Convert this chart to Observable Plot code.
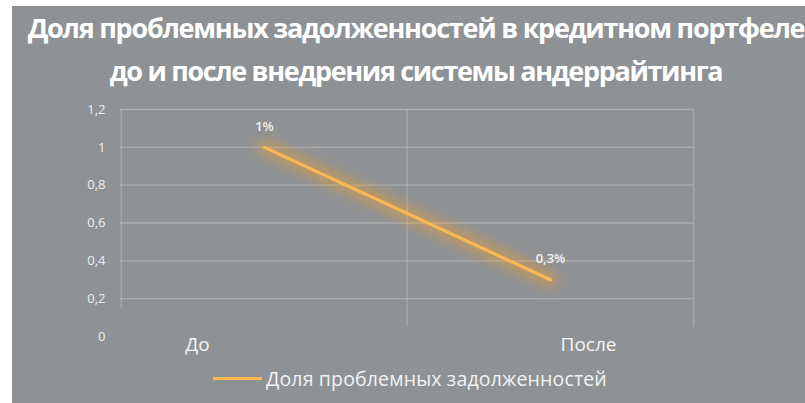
<!DOCTYPE html>
<html><head><meta charset="utf-8">
<script src="https://cdn.jsdelivr.net/npm/d3@7"></script>
<script src="https://cdn.jsdelivr.net/npm/@observablehq/plot@0.6"></script>
<style>
html,body{margin:0;padding:0;width:805px;height:403px;overflow:hidden;background:#fff;}
#bg{position:absolute;left:12px;top:6px;width:793px;height:397px;background:#8f9295;}
.title{position:absolute;left:0;width:832px;text-align:center;white-space:nowrap;color:#fff;font-family:"Open Sans",sans-serif;font-weight:700;font-size:27px;letter-spacing:-1.25px;line-height:1;}
#t1{top:14px;}
#t2{top:57px;letter-spacing:-1.35px;}
#chart{position:absolute;left:0;top:95px;}
#legend{position:absolute;left:213px;top:366px;height:24px;display:flex;align-items:center;font-family:"Open Sans",sans-serif;font-size:19.5px;letter-spacing:0.15px;color:#f2f2f2;white-space:nowrap;}
#legend .sw{width:49px;height:3px;background:#fbb852;margin-right:4px;}
</style></head>
<body>
<div id="bg"></div>
<div class="title" id="t1">Доля проблемных задолженностей в кредитном портфеле</div>
<div class="title" id="t2">до и после внедрения системы андеррайтинга</div>
<div id="chart"></div>
<div id="legend"><span class="sw"></span><span id="lgtext"></span></div>
<script>
const categories = ["До", "После"];
const values = [1, 0.3];
const valueLabels = ["1%", "0,3%"];
const yTicks = [0, 0.2, 0.4, 0.6, 0.8, 1, 1.2];
const yTickLabels = ["0", "0,2", "0,4", "0,6", "0,8", "1", "1,2"];
const seriesName = "Доля проблемных задолженностей";
document.getElementById("lgtext").textContent = seriesName;

const data = categories.map((c, i) => ({cat: c, v: values[i], label: valueLabels[i]}));
const W = 805, H = 265, mL = 120, mR = 112;
const halfStep = (W - mL - mR) / categories.length / 2;
const grid = {stroke: "#c8cbce", strokeOpacity: 0.5, strokeWidth: 1.4};

const chart = Plot.plot({
  width: W, height: H,
  marginLeft: mL, marginRight: mR, marginTop: 14, marginBottom: 24,
  style: {background: "transparent", overflow: "visible"},
  x: {type: "point", domain: categories, padding: 0.5, label: null},
  y: {domain: [0, 1.2], label: null},
  marks: [
    Plot.ruleY(yTicks.filter(d => d > 0), grid),
    Plot.ruleX([categories[0]], {y1: 0.15, y2: 1.2, dx: -halfStep, ...grid, strokeOpacity: 0.4}),
    Plot.ruleX([categories[1]], {y1: 0.05, y2: 1.2, dx: -halfStep, ...grid, strokeOpacity: 0.4}),
    Plot.ruleX([categories[1]], {y1: 0.05, y2: 1.2, dx: halfStep, ...grid, strokeOpacity: 0.4}),
    Plot.axisY({ticks: yTicks, tickFormat: d => yTickLabels[yTicks.indexOf(d)], tickSize: 0, tickPadding: 15, fontSize: 13, fill: "#eeeeee", fontFamily: "Open Sans", label: null}),
    Plot.axisX({ticks: [categories[0]], dx: -67, tickSize: 0, tickPadding: 1, fontSize: 19, fill: "#f5f5f5", fontFamily: "Open Sans", label: null}),
    Plot.axisX({ticks: [categories[1]], dx: 38, tickSize: 0, tickPadding: 1, fontSize: 19, fill: "#f5f5f5", fontFamily: "Open Sans", label: null}),
    Plot.line(data, {x: "cat", y: "v", stroke: "#f5a02c", strokeWidth: 16, strokeOpacity: 0.45, strokeLinecap: "round", className: "glow"}),
    Plot.line(data, {x: "cat", y: "v", stroke: "#fbb852", strokeWidth: 3.2, strokeLinecap: "round"}),
    Plot.text(data, {x: "cat", y: "v", text: "label", dy: -21, fill: "#f0f0f0", fontSize: 13, fontWeight: 600, fontFamily: "Open Sans"})
  ]
});
document.getElementById("chart").appendChild(chart);
d3.select(chart).selectAll(".glow path").style("filter", "blur(6px)");
</script>
</body></html>
